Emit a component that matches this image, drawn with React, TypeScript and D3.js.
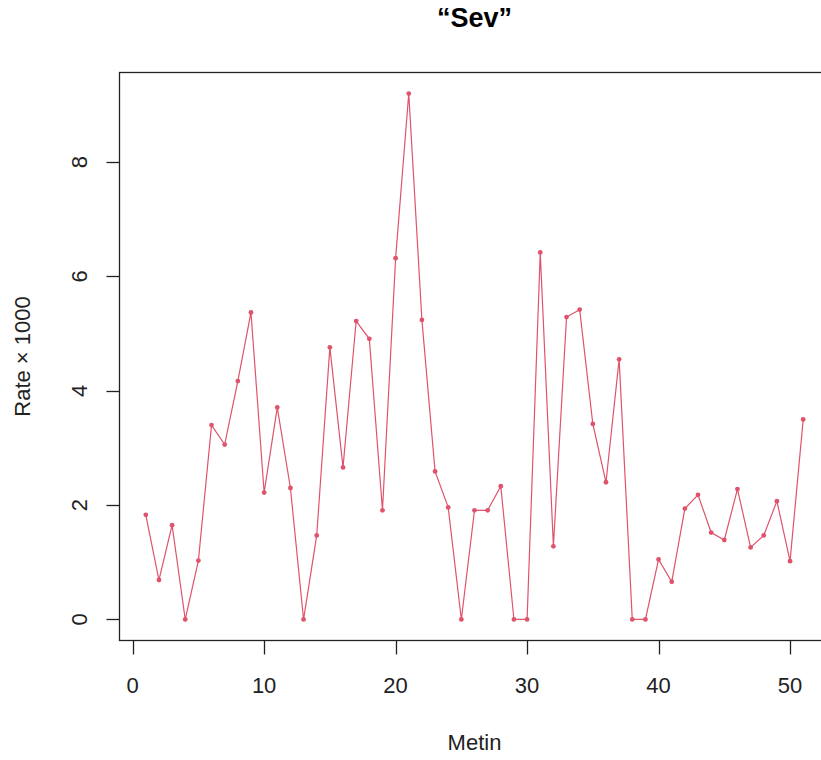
import React from "react";
import * as d3 from "d3";

const metin: number[] = Array.from({ length: 51 }, (_, i) => i + 1);
const rate: number[] = [
  1.83, 0.69, 1.65, 0, 1.03, 3.4, 3.06, 4.17, 5.37, 2.22,
  3.71, 2.3, 0, 1.47, 4.76, 2.66, 5.22, 4.91, 1.91, 6.32,
  9.2, 5.24, 2.59, 1.96, 0, 1.91, 1.91, 2.33, 0, 0,
  6.42, 1.28, 5.29, 5.42, 3.42, 2.4, 4.55, 0, 0, 1.05,
  0.66, 1.94, 2.18, 1.52, 1.39, 2.28, 1.26, 1.47, 2.07, 1.02,
  3.5,
];
const xTicks: number[] = [0, 10, 20, 30, 40, 50];
const yTicks: number[] = [0, 2, 4, 6, 8];
const title = "\u201CSev\u201D";
const xLabel = "Metin";
const yLabel = "Rate \u00D7 1000";

const W = 821;
const H = 760;
const color = "#DF536B";
const font = "'Liberation Sans', Arial, sans-serif";

export default function App() {
  const xr = 50 * 0.04;
  const x = d3.scaleLinear().domain([1 - xr, 51 + xr]).range([119.5, 829.5]);
  const ymax = d3.max(rate) as number;
  const yr = ymax * 0.04;
  const y = d3.scaleLinear().domain([-yr, ymax + yr]).range([640.5, 72.5]);
  const line = d3
    .line<number>()
    .x((_, i) => x(metin[i]))
    .y((d) => y(d));
  const [x0, x1] = x.range();
  const [y0, y1] = y.range();
  return (
    <svg
      width={W}
      height={H}
      style={{ position: "absolute", left: 0, top: 0, display: "block", background: "#fff" }}
    >
      <rect x={0} y={0} width={W} height={H} fill="#fff" />
      <text x={(x0 + x1) / 2} y={27} textAnchor="middle" fontFamily={font} fontWeight="bold" fontSize={27} fill="#000">
        {title}
      </text>
      <path d={line(rate) || ""} fill="none" stroke={color} strokeWidth={1.2} />
      {rate.map((v, i) => (
        <circle key={i} cx={x(metin[i])} cy={y(v)} r={2.4} fill={color} />
      ))}
      <rect x={x0} y={y1} width={x1 - x0} height={y0 - y1} fill="none" stroke="#222" strokeWidth={1.3} />
      {xTicks.map((t) => (
        <g key={"x" + t}>
          <line x1={Math.round(x(t)) + 0.5} x2={Math.round(x(t)) + 0.5} y1={y0} y2={y0 + 14} stroke="#222" strokeWidth={1.3} />
          <text x={x(t)} y={693} textAnchor="middle" fontFamily={font} fontSize={22} fill="#222">
            {t}
          </text>
        </g>
      ))}
      {yTicks.map((t) => (
        <g key={"y" + t}>
          <line x1={x0 - 13} x2={x0} y1={Math.round(y(t)) + 0.5} y2={Math.round(y(t)) + 0.5} stroke="#222" strokeWidth={1.3} />
          <text
            transform={`translate(87,${y(t)}) rotate(-90)`}
            textAnchor="middle"
            fontFamily={font}
            fontSize={22}
            fill="#222"
          >
            {t}
          </text>
        </g>
      ))}
      <text x={(x0 + x1) / 2} y={750} textAnchor="middle" fontFamily={font} fontSize={22} fill="#222">
        {xLabel}
      </text>
      <text
        transform={`translate(30,${(y0 + y1) / 2}) rotate(-90)`}
        textAnchor="middle"
        fontFamily={font}
        fontSize={22}
        fill="#222"
      >
        {yLabel}
      </text>
    </svg>
  );
}
